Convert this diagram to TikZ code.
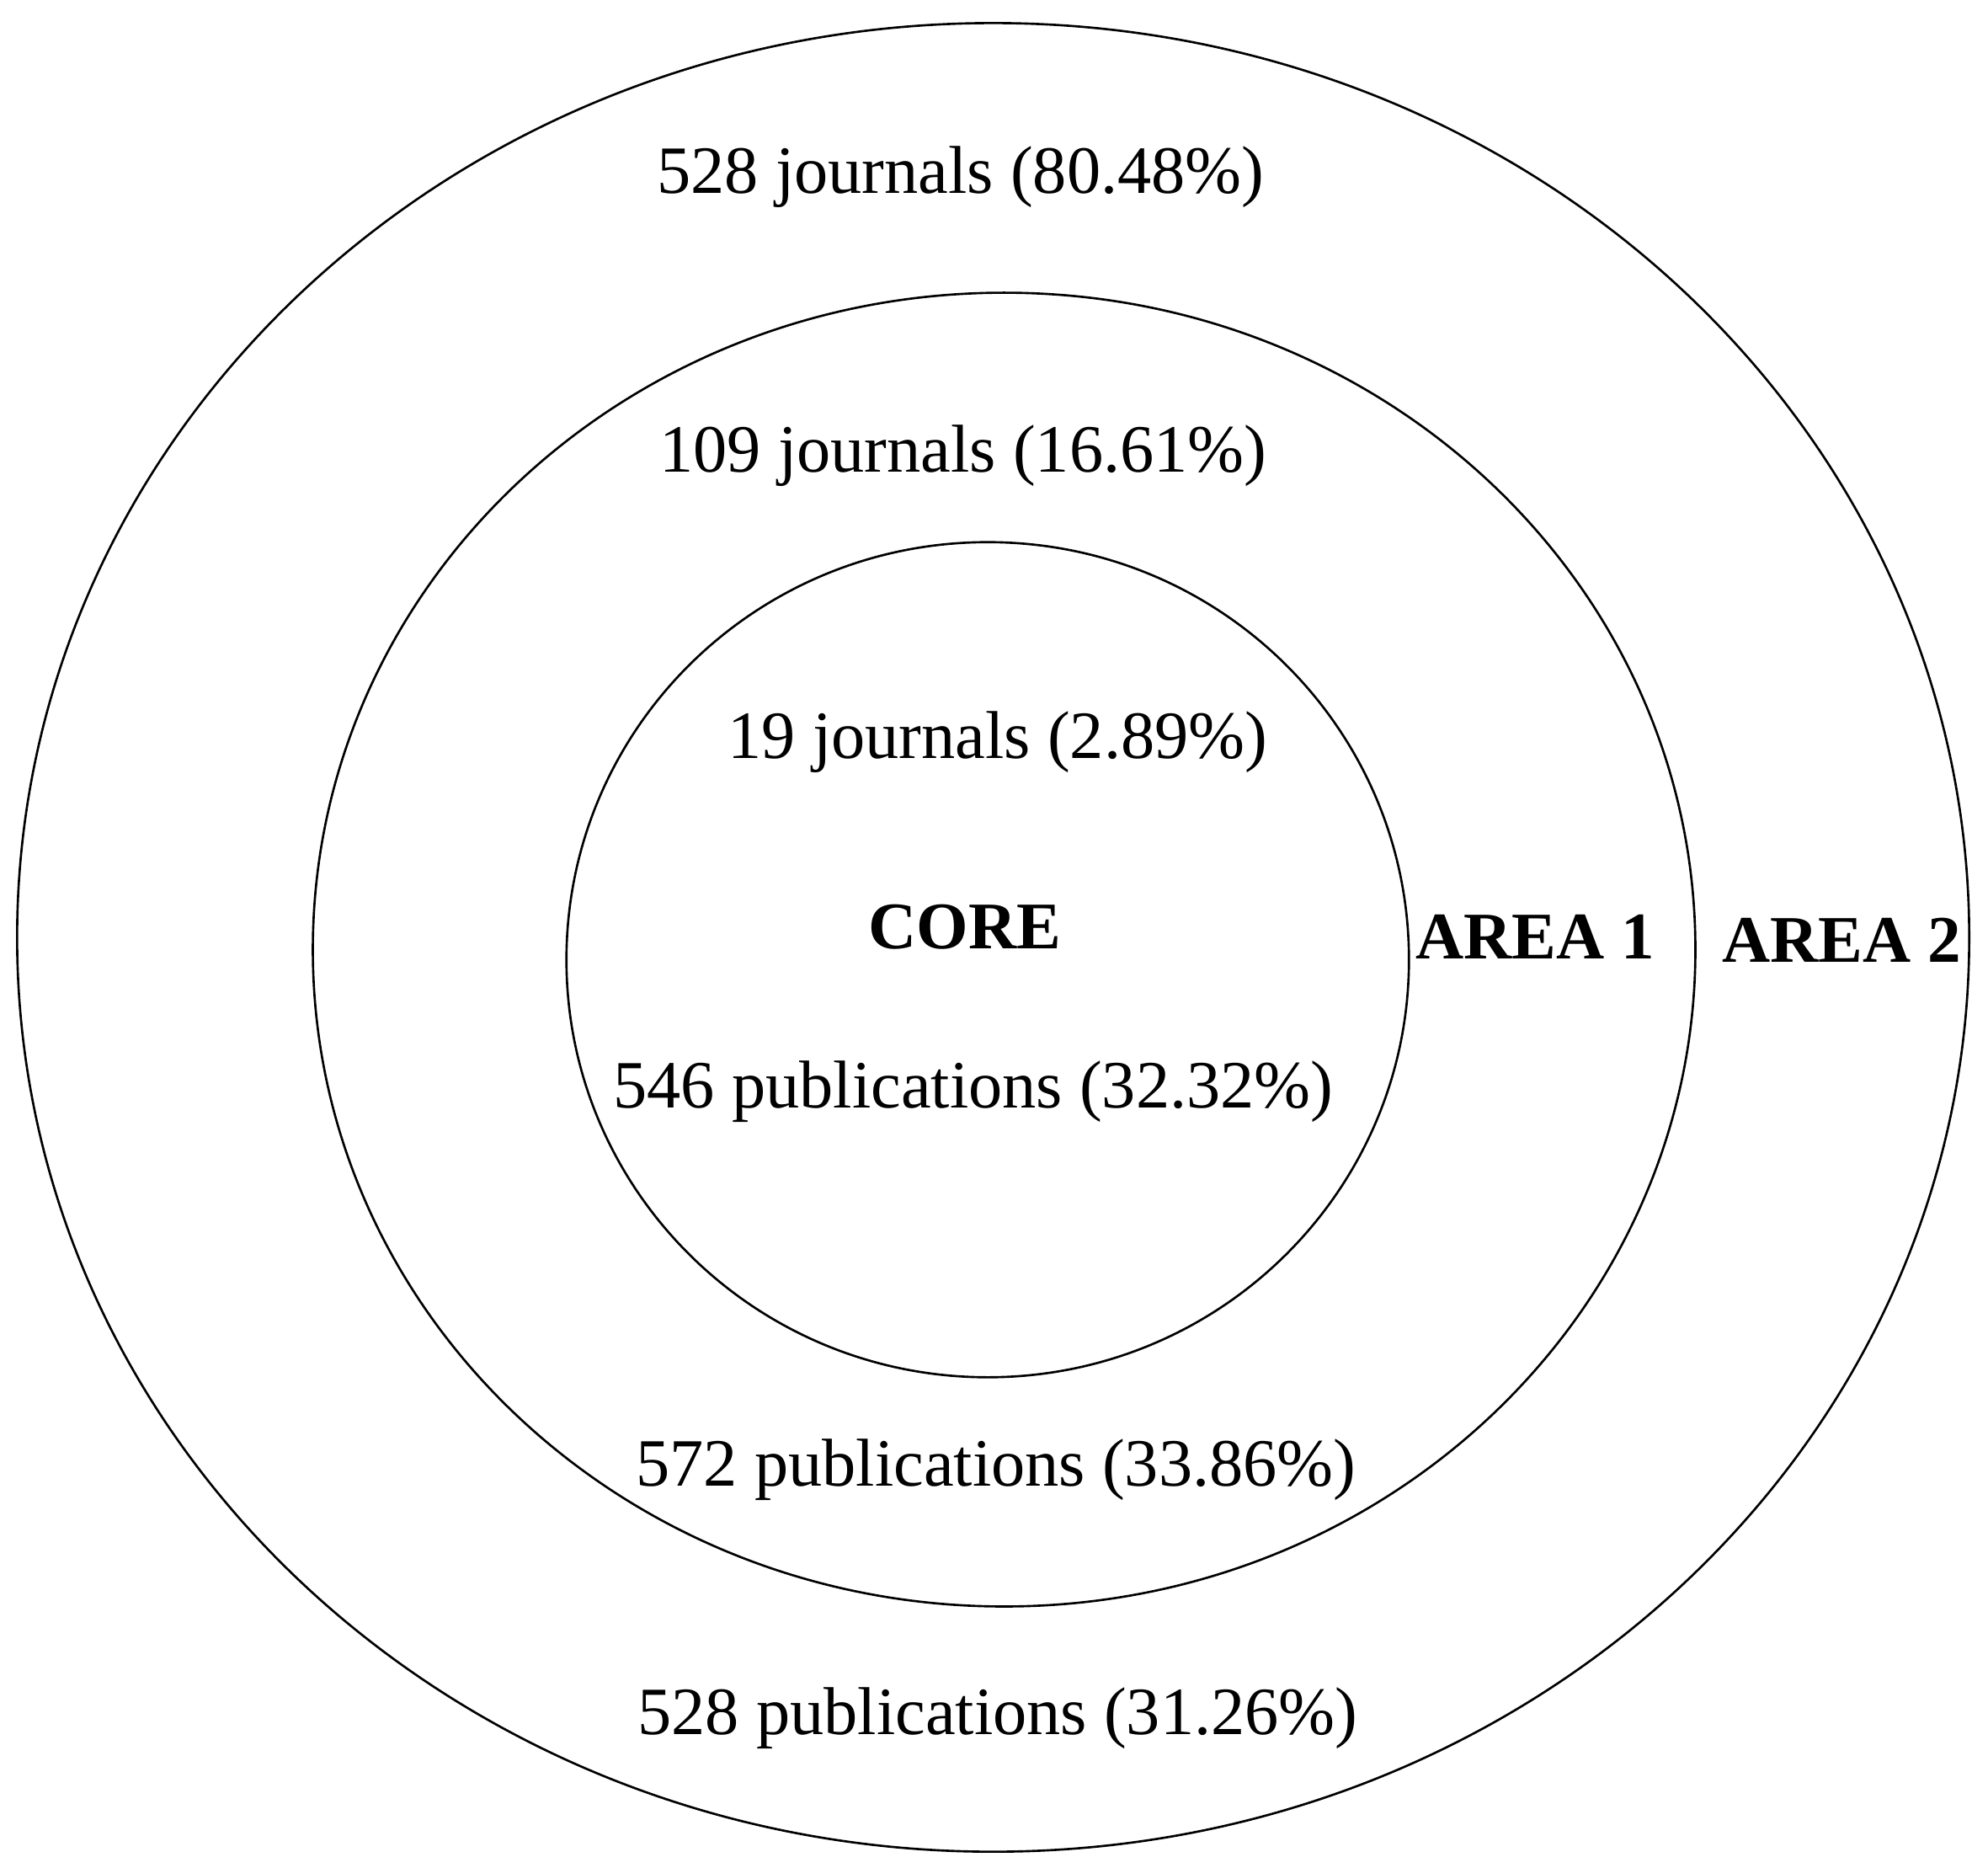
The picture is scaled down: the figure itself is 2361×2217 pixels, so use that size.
\documentclass[tikz,border=0pt]{standalone}
\usepackage{fontspec}
\setmainfont{Liberation Serif}
\usetikzlibrary{shapes.geometric}
\begin{document}
\begin{tikzpicture}[x=0.01cm,y=-0.01cm,
  ring/.style={draw=black,line width=0.75pt,ellipse,inner sep=0pt,outer sep=0pt},
  lbl/.style={anchor=base,inner sep=0pt,font=\fontsize{22.85}{27}\selectfont},
  blbl/.style={anchor=base,inner sep=0pt,font=\fontsize{22.5}{27}\selectfont\bfseries}]
\useasboundingbox[fill=white] (0,0) rectangle (2361,2217);
\node[ring,minimum width=23.17cm,minimum height=21.70cm] (outer) at (1179.5,1113) {};
\node[ring,minimum width=16.41cm,minimum height=15.59cm] (middle) at (1192.5,1127.5) {};
\node[ring,minimum width=10.00cm,minimum height=9.91cm] (inner) at (1173,1139.5) {};
\node[lbl] (j2) at (1141,229) {528 journals (80.48\%)};
\node[lbl] (j1) at (1144,560) {109 journals (16.61\%)};
\node[lbl] (j0) at (1185,900) {19 journals (2.89\%)};
\node[blbl] (core) at (1146,1126) {CORE};
\node[blbl] (a1) at (1823,1138) {AREA 1};
\node[blbl] (a2) at (2187,1142) {AREA 2};
\node[lbl] (p0) at (1156,1315) {546 publications (32.32\%)};
\node[lbl] (p1) at (1183,1764) {572 publications (33.86\%)};
\node[lbl] (p2) at (1185,2059) {528 publications (31.26\%)};
\end{tikzpicture}
\end{document}
